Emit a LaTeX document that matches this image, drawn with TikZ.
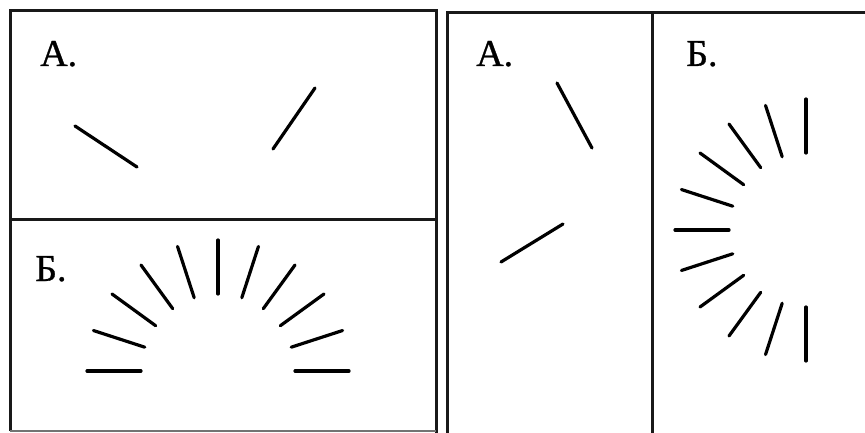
\documentclass[tikz,border=0pt]{standalone}
\usepackage{fontspec}
\setmainfont{Liberation Serif}
\newfontfamily\lblfont[FakeBold=0.8]{Liberation Serif}
\usetikzlibrary{calc}
\begin{document}
\begin{tikzpicture}[x=1pt,y=-1pt,
  frame/.style={line width=3pt,black!90},
  ray/.style={line width=3.2pt,line cap=round},
  lbl/.style={anchor=base west,inner sep=0pt,font=\lblfont\fontsize{38}{40}\selectfont}]
\useasboundingbox (0,0) rectangle (865,433);
% left frame
\draw[frame] (10,431) -- (10,11) -- (436,11) -- (436,433);
\draw[frame] (10,219) -- (436,219);
\draw[line width=1.8pt,black!55] (10,431) -- (436,431);
% right frame
\draw[frame] (447,433) -- (447,13) -- (866,13);
\draw[frame] (652,13) -- (652,433);
% labels
\node[lbl] (la1) at (40,66) {A.};
\node[lbl] (lb1) at (35,281) {Б.};
\node[lbl] (la2) at (476,66) {A.};
\node[lbl] (lb2) at (686,66) {Б.};
% left top A lines
\coordinate (a1s) at (75,126); \coordinate (a1e) at (137,167);
\coordinate (a2s) at (273,149); \coordinate (a2e) at (315,88);
\draw[ray] (a1s) -- (a1e);
\draw[ray] (a2s) -- (a2e);
% right A lines
\coordinate (a3s) at (557,83); \coordinate (a3e) at (592,148);
\coordinate (a4s) at (501,262); \coordinate (a4e) at (563,224);
\draw[ray] (a3s) -- (a3e);
\draw[ray] (a4s) -- (a4e);
% fans (y axis points down, so angles are negated)
\coordinate (c1) at (218,371);
\coordinate (c2) at (806,230);
\foreach \k in {0,...,10}{
  \draw[ray] ($(c1)+({-180+18*\k}:77)$) -- ($(c1)+({-180+18*\k}:131)$);
  \draw[ray] ($(c2)+({-90-18*\k}:77)$) -- ($(c2)+({-90-18*\k}:131)$);
}
\end{tikzpicture}
\end{document}
